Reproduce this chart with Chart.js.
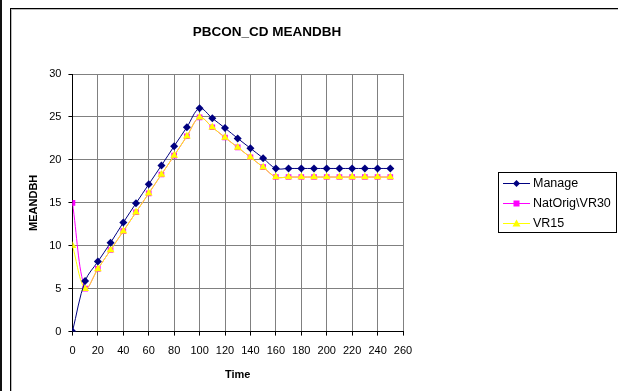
<!DOCTYPE html>
<html>
<head>
<meta charset="utf-8">
<script src="https://cdn.jsdelivr.net/npm/chart.js@4/dist/chart.umd.min.js"></script>
<style>
html,body{margin:0;padding:0;background:#fff;}
#wrap{position:relative;width:618px;height:391px;}
</style>
</head>
<body>
<div id="wrap"><canvas id="c" width="618" height="391"></canvas></div>
<script>
const chartTitle = "PBCON_CD MEANDBH";
const xTitle = "Time";
const yTitle = "MEANDBH";
const times = [0,10,20,30,40,50,60,70,80,90,100,110,120,130,140,150,160,170,180,190,200,210,220,230,240,250];
const manage = [0,5.9,8.15,10.35,12.7,14.95,17.15,19.35,21.6,23.8,26.0,24.85,23.7,22.5,21.35,20.2,19.0,19,19,19,19,19,19,19,19,19];
const natOrigVR30 = [15,5.0,7.3,9.5,11.7,13.9,16.1,18.3,20.5,22.75,24.95,23.8,22.6,21.45,20.3,19.15,18.0,18,18,18,18,18,18,18,18,18];
const vr15 = [10,5.0,7.3,9.5,11.7,13.9,16.1,18.3,20.5,22.75,24.95,23.8,22.6,21.45,20.3,19.15,18.0,18,18,18,18,18,18,18,18,18];
const seriesNames = ["Manage","NatOrig\\VR30","VR15"];

function pts(arr){ return times.map((t,i)=>({x:t,y:arr[i]})); }

const FONT = "'Liberation Sans', Arial, sans-serif";

const framePlugin = {
  id:'frame',
  beforeDraw(chart){
    const ctx = chart.ctx;
    ctx.save();
    ctx.fillStyle='#fff'; ctx.fillRect(0,0,chart.width,chart.height);
    ctx.fillStyle='#111'; ctx.fillRect(0,0,2,chart.height);
    ctx.fillStyle='#000';
    ctx.fillRect(10,8,chart.width-10,1);
    ctx.fillRect(10,8,1,chart.height-8);
    ctx.fillStyle='#bbb';
    ctx.fillRect(11,9,chart.width-11,1);
    ctx.fillRect(11,9,1,chart.height-9);
    ctx.fillStyle='#000';
    ctx.font = "bold 13.5px " + FONT;
    ctx.textAlign='center'; ctx.textBaseline='middle';
    ctx.fillText(chartTitle, 267, 32);
    ctx.restore();
  },
  afterDraw(chart){
    const ctx = chart.ctx;
    ctx.save();
    const bx=498.5, by=172.5, bw=118, bh=60;
    ctx.strokeStyle='#000'; ctx.lineWidth=1;
    ctx.strokeRect(bx,by,bw,bh);
    ctx.font = "12.5px " + FONT;
    ctx.textBaseline='middle'; ctx.textAlign='left';
    chart.data.datasets.forEach((ds,i)=>{
      const yy = 183.5 + i*20;
      ctx.strokeStyle = ds.borderColor; ctx.lineWidth=1;
      ctx.beginPath(); ctx.moveTo(503,yy); ctx.lineTo(530,yy); ctx.stroke();
      const cx=516.5, r=3.5;
      ctx.fillStyle = ds.pointBackgroundColor;
      ctx.beginPath();
      if(ds.pointStyle==='rectRot'){ ctx.moveTo(cx,yy-r);ctx.lineTo(cx+r,yy);ctx.lineTo(cx,yy+r);ctx.lineTo(cx-r,yy);ctx.closePath(); }
      else if(ds.pointStyle==='rect'){ ctx.rect(cx-3,yy-3,6,6); }
      else { ctx.moveTo(cx,yy-4);ctx.lineTo(cx+4,yy+3);ctx.lineTo(cx-4,yy+3);ctx.closePath(); }
      ctx.fill();
      ctx.fillStyle='#000';
      ctx.fillText(ds.label, 533, yy);
    });
    ctx.restore();
  }
};

new Chart(document.getElementById('c'), {
  type:'line',
  data:{
    datasets:[
      {label:seriesNames[0], data:pts(manage), borderColor:'#000080', borderWidth:1,
       pointStyle:'rectRot', pointRadius:4, pointBackgroundColor:'#000080', pointBorderColor:'#000080', pointBorderWidth:0, tension:0.35, order:1},
      {label:seriesNames[1], data:pts(natOrigVR30), borderColor:'#FF00FF', borderWidth:1,
       pointStyle:'rect', pointRadius:4, pointBackgroundColor:'#FF00FF', pointBorderColor:'#FF00FF', pointBorderWidth:0, tension:0.35, order:3},
      {label:seriesNames[2], data:pts(vr15), borderColor:'#FFFF00', borderWidth:1,
       pointStyle:'triangle', pointRadius:4.5, pointBackgroundColor:'#FFFF00', pointBorderColor:'#FFFF00', pointBorderWidth:0, tension:0.35, order:2}
    ]
  },
  options:{
    responsive:false, animation:false, devicePixelRatio:1,
    layout:{padding:{left:27,right:215,top:74,bottom:9}},
    plugins:{
      legend:{display:false},
      tooltip:{enabled:false},
      title:{display:false}
    },
    scales:{
      x:{type:'linear',min:0,max:260,
        ticks:{stepSize:20,color:'#000',font:{family:FONT,size:11},padding:9,maxRotation:0},
        grid:{color:'#808080',tickColor:'#000',tickLength:4},
        border:{color:'#000'},
        title:{display:true,text:xTitle,color:'#000',font:{family:FONT,size:11,weight:'bold'},padding:{top:2,bottom:0}}
      },
      y:{min:0,max:30,
        ticks:{stepSize:5,color:'#000',font:{family:FONT,size:11},padding:7},
        grid:{color:'#808080',tickColor:'#000',tickLength:4},
        border:{color:'#000'},
        title:{display:true,text:yTitle,color:'#000',font:{family:FONT,size:11,weight:'bold'},padding:{top:0,bottom:2}}
      }
    }
  },
  plugins:[framePlugin]
});
</script>
</body>
</html>
